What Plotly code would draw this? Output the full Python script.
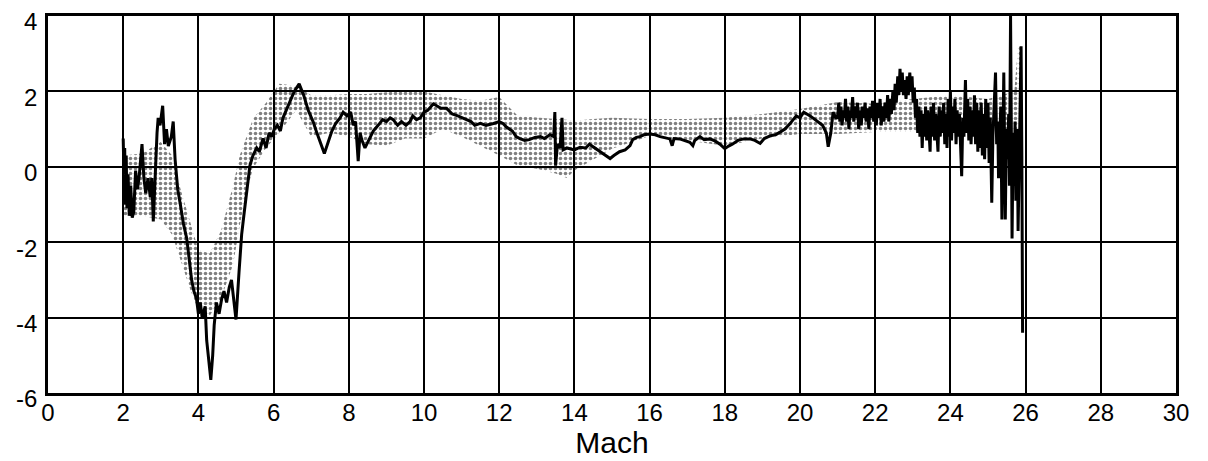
import plotly.graph_objects as go

# ---- measured line (Mach, value) ----
line_mach = [2.00, 2.02, 2.04, 2.06, 2.08, 2.10, 2.13, 2.16, 2.20, 2.24, 2.28, 2.33, 2.38, 2.43, 2.50,
             2.55, 2.60, 2.66, 2.72, 2.76, 2.80, 2.85, 2.90, 2.93, 2.98, 3.05, 3.10, 3.15, 3.20, 3.28,
             3.33, 3.38, 3.45, 3.52, 3.60, 3.69, 3.75, 3.82, 3.88, 3.95, 4.00, 4.05, 4.10, 4.18, 4.22,
             4.28, 4.33, 4.38, 4.42, 4.48, 4.55, 4.62, 4.68, 4.75, 4.82, 4.88, 4.93, 5.00, 5.08, 5.15,
             5.22, 5.30, 5.37, 5.45, 5.55, 5.62, 5.72, 5.80, 5.88, 5.95, 6.02, 6.10, 6.18, 6.25, 6.35,
             6.45, 6.55, 6.68, 6.80, 6.92, 7.05, 7.15, 7.25, 7.35, 7.45, 7.55, 7.65, 7.77, 7.85, 7.95,
             8.05, 8.12, 8.18, 8.25, 8.30, 8.35, 8.43, 8.55, 8.65, 8.78, 8.90, 9.00, 9.10, 9.18, 9.30,
             9.40, 9.52, 9.63, 9.70, 9.80, 9.90, 10.00, 10.10, 10.25, 10.35, 10.45, 10.60, 10.75, 10.90, 11.00,
             11.13, 11.25, 11.35, 11.50, 11.65, 11.85, 12.00, 12.10, 12.20, 12.35, 12.45, 12.55, 12.68, 12.80, 12.95,
             13.10, 13.20, 13.35, 13.45, 13.48, 13.50, 13.55, 13.62, 13.67, 13.70, 13.80, 13.90, 14.00, 14.15, 14.30,
             14.40, 14.55, 14.68, 14.80, 14.95, 15.05, 15.20, 15.35, 15.48, 15.55, 15.65, 15.74, 15.85, 16.00, 16.15,
             16.28, 16.40, 16.54, 16.60, 16.65, 16.80, 16.95, 17.07, 17.15, 17.20, 17.34, 17.45, 17.60, 17.75, 17.87,
             18.00, 18.10, 18.20, 18.35, 18.50, 18.67, 18.80, 18.94, 19.05, 19.20, 19.35, 19.47, 19.60, 19.73, 19.90,
             20.00, 20.10, 20.27, 20.45, 20.60, 20.70, 20.75, 20.82, 20.88, 20.95,
             21.00, 21.03, 21.06, 21.09, 21.12, 21.15, 21.18, 21.21, 21.24, 21.27, 21.30, 21.33, 21.36, 21.40, 21.43,
             21.46, 21.50, 21.53, 21.56, 21.60, 21.63, 21.66, 21.70, 21.73, 21.76, 21.80, 21.83, 21.86, 21.90, 21.93,
             21.96, 22.00, 22.03, 22.06, 22.10, 22.13, 22.16, 22.20, 22.23, 22.26, 22.30, 22.33, 22.36, 22.40, 22.43,
             22.47, 22.50, 22.53, 22.56, 22.60, 22.63, 22.66, 22.69, 22.72, 22.75, 22.78, 22.82, 22.85, 22.88, 22.92,
             22.95, 22.98, 23.01, 23.04, 23.07, 23.10, 23.13, 23.16, 23.19, 23.22, 23.25, 23.28, 23.31, 23.34, 23.37,
             23.40, 23.43, 23.46, 23.49, 23.52, 23.55, 23.58, 23.61, 23.64, 23.67, 23.70, 23.73, 23.76, 23.79, 23.82,
             23.85, 23.88, 23.91, 23.94, 23.97, 24.00, 24.03, 24.06, 24.09, 24.12, 24.15, 24.18, 24.21, 24.24, 24.27,
             24.30, 24.33, 24.36, 24.40, 24.43, 24.46, 24.49, 24.52, 24.55, 24.58, 24.61, 24.64, 24.67, 24.70, 24.73,
             24.76, 24.79, 24.82, 24.85, 24.88, 24.91, 24.94, 24.97, 25.00, 25.03, 25.06, 25.10, 25.13, 25.16, 25.20,
             25.23, 25.26, 25.28, 25.31, 25.34, 25.37, 25.40, 25.42, 25.44, 25.46, 25.49, 25.52, 25.55, 25.57, 25.60,
             25.62, 25.64, 25.67, 25.70, 25.72, 25.74, 25.76, 25.78, 25.80, 25.83, 25.86, 25.88, 25.90, 25.92]
line_val = [0.75, -0.2, 0.5, -1.0, 0.3, -1.1, -0.2, -1.3, -0.5, -1.35, -1.2, -0.1, -0.6, -0.2, 0.6,
            -0.3, -0.7, -0.3, -0.8, -0.3, -1.45, -0.2, 0.9, 1.3, 1.1, 1.62, 0.6, 1.0, 0.55, 0.8,
            1.2, 0.2, -0.6, -1.0, -1.5, -1.9, -2.5, -3.0, -3.3, -3.5, -3.9, -3.6, -4.0, -3.7, -4.6,
            -5.3, -5.65, -5.0, -4.2, -3.6, -3.9, -3.5, -3.3, -3.6, -3.2, -3.0, -3.5, -4.05, -2.8, -1.8,
            -1.2, -0.5, 0.03, 0.3, 0.5, 0.4, 0.75, 0.5, 0.9, 0.8, 1.0, 1.1, 0.95, 1.3, 1.55,
            1.8, 2.0, 2.2, 1.9, 1.5, 1.2, 0.9, 0.6, 0.35, 0.65, 0.95, 1.15, 1.3, 1.45, 1.35,
            1.45, 1.1, 1.2, 0.15, 0.9, 0.7, 0.5, 0.75, 0.95, 1.1, 1.25, 1.2, 1.3, 1.25, 1.1,
            1.2, 1.1, 1.2, 1.35, 1.25, 1.3, 1.45, 1.5, 1.67, 1.6, 1.55, 1.55, 1.4, 1.35, 1.3,
            1.25, 1.2, 1.1, 1.15, 1.1, 1.15, 1.2, 1.15, 1.05, 0.95, 0.8, 0.75, 0.7, 0.72, 0.78,
            0.8, 0.75, 0.85, 0.8, 1.45, 0.03, 0.6, 0.5, 1.3, 0.45, 0.5, 0.48, 0.45, 0.52, 0.5,
            0.6, 0.5, 0.39, 0.32, 0.22, 0.3, 0.4, 0.45, 0.56, 0.72, 0.78, 0.8, 0.85, 0.87, 0.85,
            0.8, 0.78, 0.74, 0.56, 0.75, 0.74, 0.7, 0.65, 0.56, 0.7, 0.8, 0.72, 0.74, 0.68, 0.6,
            0.48, 0.55, 0.6, 0.7, 0.74, 0.74, 0.7, 0.62, 0.75, 0.82, 0.85, 0.92, 1.0, 1.14, 1.35,
            1.3, 1.45, 1.35, 1.2, 1.1, 0.9, 0.53, 0.9, 1.45, 1.3,
            1.3, 1.7, 1.2, 1.6, 1.1, 1.5, 1.3, 1.8, 1.2, 1.6, 1.0, 1.5, 1.3, 1.85, 1.2,
            1.6, 1.3, 1.7, 1.0, 1.5, 1.1, 1.6, 1.3, 1.7, 1.2, 1.55, 1.0, 1.6, 1.3, 1.75,
            1.2, 1.6, 1.1, 1.7, 1.3, 1.8, 1.1, 1.6, 1.2, 1.7, 1.3, 1.9, 1.2, 1.8, 1.4,
            2.0, 1.5, 2.2, 1.7, 2.4, 1.9, 2.6, 2.0, 2.5, 1.9, 2.3, 1.8, 2.4, 1.9, 2.5,
            2.0, 2.4, 1.7, 2.1, 1.3, 1.8, 0.9, 1.6, 0.8, 1.5, 0.5, 1.4, 0.8, 1.6, 0.7,
            1.5, 0.9, 0.4, 1.6, 0.8, 1.7, 0.7, 1.4, 0.9, 0.4, 1.6, 0.8, 1.5, 0.9, 1.7,
            0.6, 1.4, 0.5, 1.8, 0.8, 2.0, 0.7, 1.6, 0.9, 1.8, 0.6, 1.5, 0.8, 1.4, 0.3,
            -0.25, 1.3, 0.8, 2.3, 0.9, 1.8, 0.7, 1.6, 0.6, 1.5, 0.8, 1.9, 0.6, 1.7, 0.4,
            1.5, 0.5, 1.7, 0.3, 1.4, 0.2, 1.8, 0.5, 1.7, 0.1, 1.3, -0.95, 0.8, 1.5, 2.5,
            0.6, 1.2, -0.3, 1.0, 1.6, -1.4, 1.2, 2.5, 0.5, -1.4, 1.0, 0.2, 1.4, -0.5, 4.0,
            0.5, -1.9, 0.9, -0.5, 1.2, -0.9, 0.56, 1.0, -1.7, 0.5, 1.5, 3.2, 0.3, -4.4]

# ---- stippled scatter band ----
band_mach = [2.0, 2.5, 3.0, 3.3, 3.5, 3.8, 4.0, 4.3, 4.6, 4.92, 5.1, 5.28, 5.45, 5.8, 6.15,
             6.6, 7.0, 7.5, 8.0, 8.5, 9.0, 9.5, 10.0, 10.5, 11.0, 11.5, 12.0, 12.5, 13.0, 13.5,
             13.8, 14.0, 14.5, 15.0, 16.0, 17.0, 18.0, 19.0, 20.0, 21.0, 22.0, 23.0, 24.0, 25.0, 25.7,
             25.8, 25.9]
band_hi = [0.3, 0.35, 0.66, 0.3, -0.5, -1.5, -2.2, -2.3, -1.7, -0.5, 0.3, 0.8, 1.27, 1.7, 2.2,
           2.15, 1.9, 1.9, 1.93, 1.93, 1.98, 2.0, 2.0, 1.9, 1.8, 1.75, 1.85, 1.35, 1.32, 1.27,
           1.25, 1.22, 1.27, 1.3, 1.27, 1.27, 1.3, 1.4, 1.53, 1.72, 1.67, 1.8, 1.9, 1.8, 2.0,
           3.2, 3.2]
band_lo = [-1.3, -1.3, -1.4, -1.8, -2.4, -3.3, -3.8, -3.95, -3.5, -2.6, -1.56, -0.66, -0.05, 0.5, 0.9,
           1.5, 0.8, 0.9, 0.8, 0.6, 0.56, 0.75, 0.75, 1.0, 0.8, 0.56, 0.3, 0.03, -0.05, -0.18,
           -0.3, -0.1, 0.2, 0.48, 0.82, 0.7, 0.56, 0.75, 0.87, 0.87, 0.92, 0.92, 1.2, 1.27, 0.56,
           0.56, 0.56]

x_ticks = [0, 2, 4, 6, 8, 10, 12, 14, 16, 18, 20, 22, 24, 26, 28, 30]
y_ticks = [-6, -4, -2, 0, 2, 4]

fig = go.Figure()
fig.add_trace(go.Scatter(x=band_mach, y=band_lo, mode="lines",
                         line=dict(width=0, color="rgba(0,0,0,0)"), showlegend=False,
                         hoverinfo="skip"))
fig.add_trace(go.Scatter(x=band_mach, y=band_hi, mode="lines", fill="tonexty",
                         fillcolor="rgba(0,0,0,0)",
                         fillpattern=dict(shape=".", fgcolor="black", bgcolor="rgba(0,0,0,0)",
                                          size=5, solidity=0.4),
                         line=dict(width=0, color="rgba(0,0,0,0)"), showlegend=False))
fig.add_trace(go.Scatter(x=line_mach, y=line_val, mode="lines",
                         line=dict(color="black", width=3), showlegend=False))

font_family = "Liberation Sans, Arial, sans-serif"
# page has an 8px body margin, so the figure is sized 1200x453
fig.update_layout(
    width=1200, height=453,
    margin=dict(l=40, r=32, t=8, b=68),
    paper_bgcolor="white", plot_bgcolor="white",
    font=dict(family=font_family, color="black"),
    showlegend=False,
)
fig.update_xaxes(range=[0, 30], tickvals=x_ticks, ticktext=[str(v) for v in x_ticks],
                 showgrid=True, gridcolor="black", gridwidth=2,
                 showline=True, linecolor="black", linewidth=2.5, mirror=True,
                 zeroline=False, ticks="", ticklabelstandoff=-4, automargin=False,
                 ticklabeloverflow="allow",
                 tickfont=dict(size=24, family=font_family),
                 title=dict(text="Mach", font=dict(size=30, family=font_family), standoff=0))
fig.update_yaxes(range=[-6, 4], tickvals=y_ticks,
                 ticktext=[("-" if v < 0 else "") + str(abs(v)) for v in y_ticks],
                 showgrid=True, gridcolor="black", gridwidth=2,
                 showline=True, linecolor="black", linewidth=2.5, mirror=True,
                 zeroline=False, ticks="", ticklabelstandoff=3, ticklabelshift=6,
                 automargin=False, ticklabeloverflow="allow",
                 tickfont=dict(size=24, family=font_family))

fig.write_html("out.html")
